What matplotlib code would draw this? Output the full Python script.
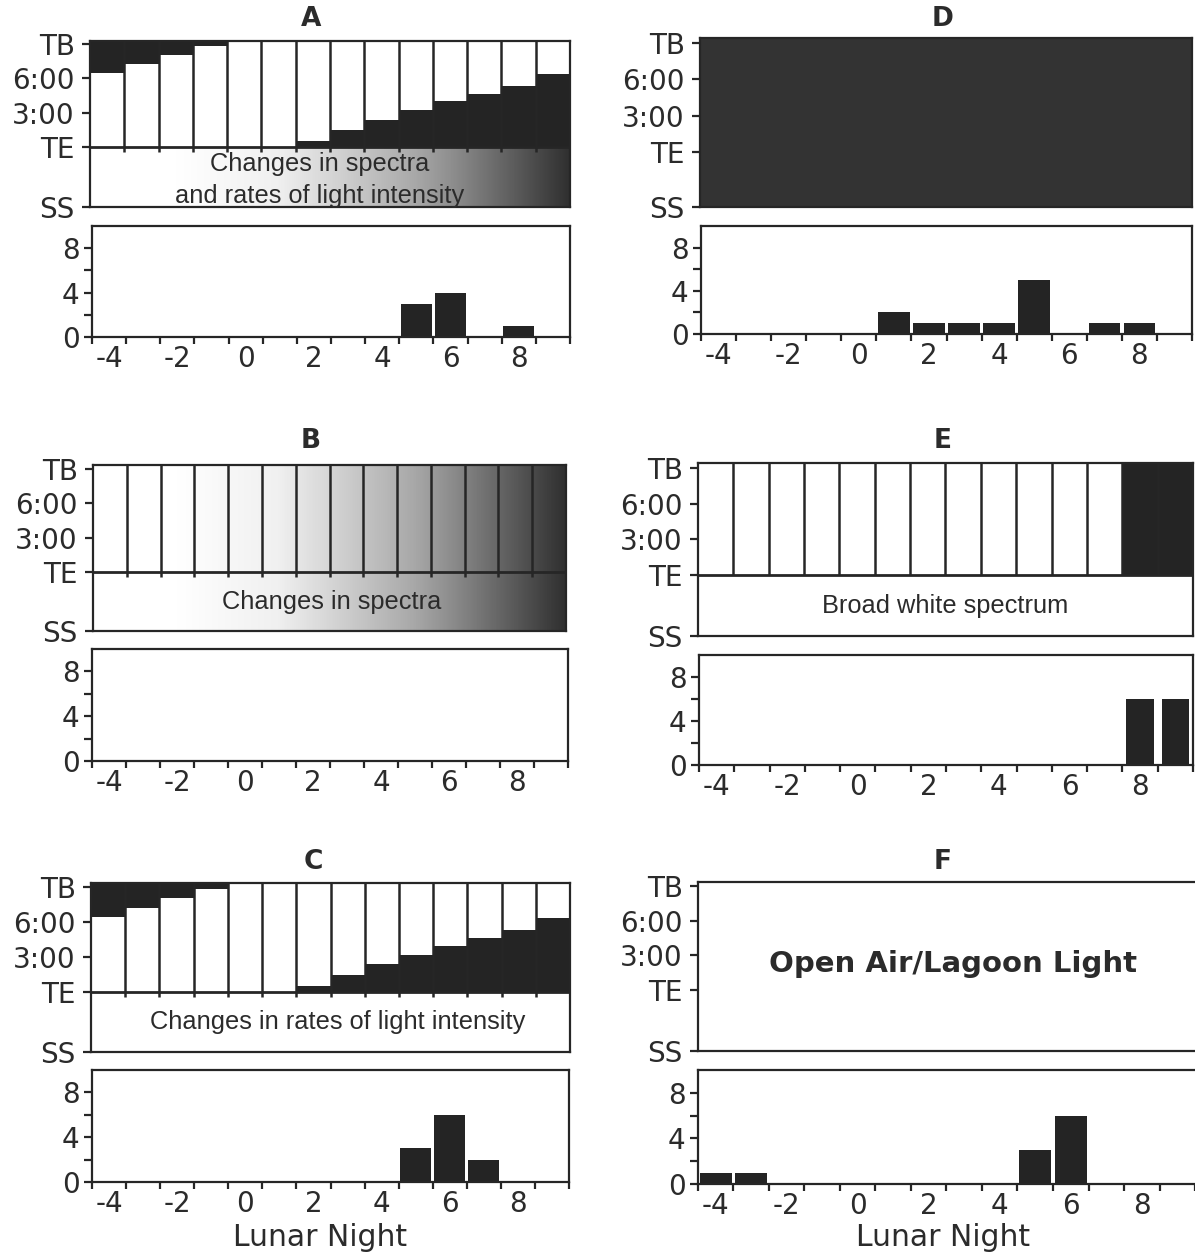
import numpy as np
import matplotlib
matplotlib.use("Agg")
import matplotlib.pyplot as plt
from matplotlib.colors import LinearSegmentedColormap

nan = np.nan

# ---------------- data ----------------
nights = np.arange(-4, 10)                       # lunar nights
xtick_values = [-4, -2, 0, 2, 4, 6, 8]
xtick_labels = ["-4", "-2", "0", "2", "4", "6", "8"]
upper_tick_labels = ["SS", "TE", "3:00", "6:00", "TB"]
upper_tick_hours = [0, 3, 6, 9]                  # TE, 3:00, 6:00, TB (hours after TE)
hist_yticks = [0, 4, 8]
hist_yminor = [2, 6]

# hours after TE at which darkness starts (dark until TB) -- nights before full moon
moonset_h = [6.45, 7.24, 8.02, 8.81, nan, nan, nan, nan, nan, nan, nan, nan, nan, nan]
# hours after TE until which it is dark (moonrise) -- nights after full moon
moonrise_h = [nan, nan, nan, nan, nan, nan, 0.52, 1.45, 2.38, 3.20, 3.98, 4.65, 5.29, 6.34]
# panel E: nights kept fully dark
dark_nights_E = [8, 9]

counts_A = [0, 0, 0, 0, 0, 0, 0, 0, 0, 3, 4, 0, 1, 0]
counts_B = [0, 0, 0, 0, 0, 0, 0, 0, 0, 0, 0, 0, 0, 0]
counts_C = [0, 0, 0, 0, 0, 0, 0, 0, 0, 3, 6, 2, 0, 0]
counts_D = [0, 0, 0, 0, 0, 2, 1, 1, 1, 5, 0, 1, 1, 0]
counts_E = [0, 0, 0, 0, 0, 0, 0, 0, 0, 0, 0, 0, 6, 6]
counts_F = [1, 1, 0, 0, 0, 0, 0, 0, 0, 3, 6, 0, 0, 0]

text_A = "Changes in spectra\nand rates of light intensity"
text_B = "Changes in spectra"
text_C = "Changes in rates of light intensity"
text_E = "Broad white spectrum"
text_F = "Open Air/Lagoon Light"

# ---------------- style / layout ----------------
W, H = 1195, 1254
fig = plt.figure(figsize=(W / 100, H / 100), dpi=100)

DARK = "#242424"
DARK_D = "#333333"
LINE = "#262626"
TXT = "#2b2b2b"
LW = 1.6
TICK_FONT = ["DejaVu Sans"]
TICK_SIZE = 20
INNER_FONT = ["Liberation Sans", "DejaVu Sans"]

grad = LinearSegmentedColormap.from_list(
    "spec",
    [(0.0, "#ffffff"), (0.18, "#ffffff"), (0.39, "#f0f0f0"), (0.5, "#d6d6d6"),
     (0.68, "#a8a8a8"), (0.75, "#909090"), (0.86, "#666666"), (1.0, "#303030")])


def fig_rect(L, R, T, B):
    return [L / W, 1 - B / H, (R - L) / W, (B - T) / H]


# upper: (left, right, frame top, TB, TE, SS) in pixels; hist: (left, right, top, bottom)
layout = {
    "A": dict(up=(90, 570, 41, 44, 147, 207), hist=(92, 570, 226, 337), title=(311, 19)),
    "B": dict(up=(93, 566, 465, 469, 572, 631), hist=(92, 568, 649, 761), title=(311, 441)),
    "C": dict(up=(91, 570, 883, 887, 992, 1052), hist=(92, 569, 1070, 1182), title=(313, 862)),
    "D": dict(up=(700, 1192, 38, 43, 152, 207), hist=(701, 1192, 226, 334), title=(943, 19)),
    "E": dict(up=(698, 1193, 463, 468, 575, 636), hist=(699, 1193, 655, 765), title=(943, 441)),
    "F": dict(up=(698, 1195, 882, 886, 990, 1051), hist=(698, 1195, 1070, 1184), title=(943, 862)),
}
counts = dict(A=counts_A, B=counts_B, C=counts_C, D=counts_D, E=counts_E, F=counts_F)
bar_width = dict(A=0.9, B=0.9, C=0.9, D=0.9, E=0.78, F=0.9)

separators = nights[:-1] + 0.5


def style_spines(ax):
    for s in ax.spines.values():
        s.set_linewidth(LW)
        s.set_color(LINE)


def make_upper(name):
    L, R, Tt, TB, TE, SS = layout[name]["up"]
    unit = (TE - TB) / 9.0
    top = (TE - Tt) / unit
    ss = -(SS - TE) / unit
    ax = fig.add_axes(fig_rect(L, R, Tt, SS))
    ax.set_facecolor("white")
    style_spines(ax)

    if name == "A":
        ax.imshow(np.linspace(0, 1, 700)[None, :], extent=[-4.5, 9.5, ss, 0],
                  aspect="auto", cmap=grad, interpolation="bilinear", zorder=0)
    if name == "B":
        ax.imshow(np.linspace(0, 1, 700)[None, :], extent=[-4.5, 9.5, ss, top],
                  aspect="auto", cmap=grad, interpolation="bilinear", zorder=0)

    if name in ("A", "C"):
        ms = np.array(moonset_h)
        mr = np.array(moonrise_h)
        ok = ~np.isnan(ms)
        ax.bar(nights[ok], top - ms[ok], bottom=ms[ok], width=1.0, color=DARK,
               linewidth=0, zorder=2)
        ok = ~np.isnan(mr)
        ax.bar(nights[ok], mr[ok], bottom=0, width=1.0, color=DARK,
               linewidth=0, zorder=2)
    if name == "D":
        ax.bar(nights, top - ss, bottom=ss, width=1.0, color=DARK_D, linewidth=0, zorder=2)
    if name == "E":
        ax.bar(dark_nights_E, top, bottom=0, width=1.0, color=DARK, linewidth=0, zorder=2)

    if name in ("A", "B", "C", "E"):
        ax.vlines(separators, 0, top, colors=LINE, linewidth=LW + 0.2, zorder=3)
        ax.axhline(0, color=LINE, linewidth=LW + 0.4, zorder=3)
    if name in ("A", "B", "C"):
        ax.vlines(separators, -5.0 / unit, 0, colors=LINE, linewidth=LW + 0.2, zorder=3)

    ax.set_xlim(-4.5, 9.5)
    ax.set_ylim(ss, top)
    ax.set_yticks([ss] + upper_tick_hours)
    ax.set_yticklabels(upper_tick_labels, family=TICK_FONT, fontsize=TICK_SIZE, color=TXT)
    ax.tick_params(axis="y", direction="out", length=6, width=LW, color=LINE, pad=5)
    ax.tick_params(axis="x", bottom=False, labelbottom=False)
    return ax, ss, top


def make_hist(name):
    L, R, T, B = layout[name]["hist"]
    ax = fig.add_axes(fig_rect(L, R, T, B))
    style_spines(ax)
    ax.bar(nights, counts[name], width=bar_width[name], color=DARK, linewidth=0, zorder=2)
    ax.set_xlim(-4.5, 9.5)
    ax.set_ylim(0, 10)
    ax.set_xticks(np.append(separators, [-4.5, 9.5]))
    ax.set_xticklabels([])
    ax.set_xticks(xtick_values, minor=True)
    ax.set_xticklabels(xtick_labels, minor=True, family=TICK_FONT, fontsize=TICK_SIZE, color=TXT)
    ax.tick_params(axis="x", which="major", direction="out", length=5, width=LW, color=LINE)
    ax.tick_params(axis="x", which="minor", length=0, pad=6)
    ax.set_yticks(hist_yticks)
    ax.set_yticklabels([str(v) for v in hist_yticks], family=TICK_FONT,
                       fontsize=TICK_SIZE, color=TXT)
    ax.set_yticks(hist_yminor, minor=True)
    ax.tick_params(axis="y", which="both", direction="out", length=6, width=LW,
                   color=LINE, pad=3)
    return ax


for name in "ABCDEF":
    axu, ss, top = make_upper(name)
    axh = make_hist(name)
    tx, ty = layout[name]["title"]
    fig.text(tx / W, 1 - ty / H, name, ha="center", va="center", fontsize=19,
             fontweight="bold", family=TICK_FONT, color=TXT)
    band_mid = ss / 2.0
    if name == "A":
        axu.text(2.2, band_mid - 0.25, text_A, ha="center", va="center", fontsize=18.3,
                 family=INNER_FONT, color=TXT, linespacing=1.4, zorder=4)
    elif name == "B":
        axu.text(2.55, band_mid, text_B, ha="center", va="center", fontsize=18.3,
                 family=INNER_FONT, color=TXT, zorder=4)
    elif name == "C":
        axu.text(2.72, band_mid, text_C, ha="center", va="center", fontsize=18.3,
                 family=INNER_FONT, color=TXT, zorder=4)
    elif name == "E":
        axu.text(2.5, band_mid, text_E, ha="center", va="center", fontsize=18.3,
                 family=INNER_FONT, color=TXT, zorder=4)
    elif name == "F":
        axu.text(2.69, 2.25, text_F, ha="center", va="center", fontsize=21,
                 fontweight="bold", family=TICK_FONT, color=TXT, zorder=4)
        axu.spines["right"].set_visible(False)
        axh.spines["right"].set_visible(False)
    if name in ("C", "F"):
        cx = 320 if name == "C" else 943
        L, R, T, B = layout[name]["hist"]
        axh.set_xlabel("Lunar Night", family=TICK_FONT, fontsize=21.5, color=TXT, va="center")
        axh.xaxis.set_label_coords((cx - L) / (R - L), -(1237 - B) / (B - T))

fig.savefig("out.png", dpi=100, facecolor="white")
